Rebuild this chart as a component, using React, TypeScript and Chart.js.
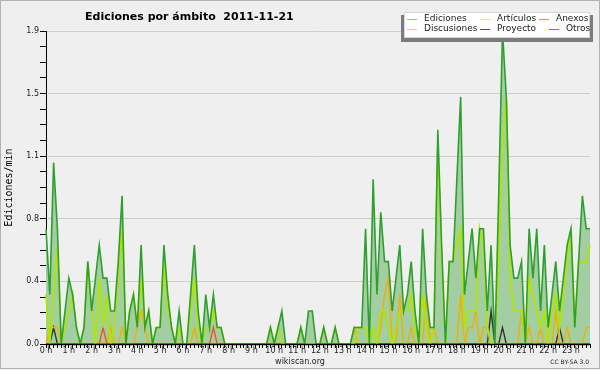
import React, { useEffect, useRef } from 'react';
import { Chart, registerables } from 'chart.js';

Chart.register(...registerables);

const TITLE = 'Ediciones por ámbito  2011-11-21';
const Y_TITLE = 'Ediciones/min';
const FOOTER_LEFT = 'wikiscan.org';
const FOOTER_RIGHT = 'CC BY-SA 3.0';

const HOUR_LABELS = [
  '0 h', '1 h', '2 h', '3 h', '4 h', '5 h', '6 h', '7 h', '8 h', '9 h', '10 h', '11 h',
  '12 h', '13 h', '14 h', '15 h', '16 h', '17 h', '18 h', '19 h', '20 h', '21 h', '22 h', '23 h',
];
const MINUTES = ['00', '10', '20', '30', '40', '50'];
const SLOT_LABELS = HOUR_LABELS.flatMap((h) => MINUTES.map((m) => `${h} ${m}`));

const Y_MAX = 1.9;
const Y_MAJOR_TICKS = [0, 0.38, 0.76, 1.14, 1.52, 1.9];

const SERIES_NAMES = ['Ediciones', 'Artículos', 'Anexos', 'Discusiones', 'Proyecto', 'Otros'];

// 10-minute slots (edits per minute)
const EDICIONES = [
  0.7, 0.3, 1.1, 0.7, 0, 0.2, 0.4, 0.3, 0.1, 0, 0.1, 0.5,
  0.2, 0.4, 0.6, 0.4, 0.4, 0.2, 0.2, 0.5, 0.9, 0, 0.2, 0.3,
  0.1, 0.6, 0.1, 0.2, 0, 0.1, 0.1, 0.6, 0.3, 0.1, 0, 0.2,
  0, 0, 0.3, 0.6, 0.2, 0, 0.3, 0.1, 0.3, 0.1, 0.1, 0,
  0, 0, 0, 0, 0, 0, 0, 0, 0, 0, 0, 0.1,
  0, 0.1, 0.2, 0, 0, 0, 0, 0.1, 0, 0.2, 0.2, 0,
  0, 0.1, 0, 0, 0.1, 0, 0, 0, 0, 0.1, 0.1, 0.1,
  0.7, 0, 1.0, 0.3, 0.8, 0.5, 0.5, 0.2, 0.4, 0.6, 0.2, 0.3,
  0.5, 0.2, 0, 0.7, 0.3, 0.1, 0.1, 1.3, 0.6, 0, 0.5, 0.5,
  1.0, 1.5, 0.3, 0.5, 0.7, 0.4, 0.7, 0.7, 0.2, 0.6, 0, 0.9,
  1.9, 1.5, 0.6, 0.4, 0.4, 0.5, 0, 0.7, 0.4, 0.7, 0.2, 0.6,
  0.1, 0.3, 0.5, 0.2, 0.4, 0.6, 0.7, 0.1, 0.5, 0.9, 0.7, 0.7,
];

const ARTICULOS = [
  0.3, 0, 0.3, 0.6, 0, 0.1, 0.2, 0.3, 0.1, 0, 0.1, 0.5,
  0.2, 0, 0.4, 0.1, 0.3, 0, 0.1, 0.4, 0.7, 0, 0.2, 0.3,
  0.1, 0.4, 0.1, 0.2, 0, 0.1, 0.1, 0.5, 0.2, 0.1, 0, 0.1,
  0, 0, 0.2, 0.4, 0.1, 0, 0.1, 0.1, 0.2, 0.1, 0.1, 0,
  0, 0, 0, 0, 0, 0, 0, 0, 0, 0, 0, 0.1,
  0, 0.1, 0, 0, 0, 0, 0, 0.1, 0, 0, 0, 0,
  0, 0.1, 0, 0, 0.1, 0, 0, 0, 0, 0, 0.1, 0.1,
  0.1, 0, 0.1, 0, 0.2, 0.2, 0.1, 0, 0.1, 0.2, 0.2, 0.2,
  0.3, 0.1, 0, 0.3, 0.1, 0, 0.1, 1.2, 0.5, 0, 0.5, 0.5,
  0.6, 0.7, 0.1, 0.2, 0.2, 0.2, 0.7, 0.6, 0.1, 0, 0, 0.5,
  1.2, 1.5, 0.4, 0.2, 0.2, 0.2, 0, 0.4, 0.3, 0.2, 0.1, 0.2,
  0, 0.2, 0.3, 0.1, 0.3, 0.5, 0.7, 0.1, 0.5, 0.5, 0.5, 0.6,
];

const ANEXOS = [
  0, 0, 0, 0, 0, 0, 0, 0, 0, 0, 0, 0,
  0, 0, 0, 0.1, 0, 0, 0, 0, 0, 0, 0, 0,
  0, 0, 0, 0, 0, 0, 0, 0, 0, 0, 0, 0,
  0, 0, 0, 0, 0, 0, 0, 0, 0.1, 0, 0, 0,
  0, 0, 0, 0, 0, 0, 0, 0, 0, 0, 0, 0,
  0, 0, 0, 0, 0, 0, 0, 0, 0, 0, 0, 0,
  0, 0, 0, 0, 0, 0, 0, 0, 0, 0, 0, 0,
  0, 0, 0, 0, 0, 0, 0, 0, 0, 0, 0, 0,
  0, 0, 0, 0, 0, 0, 0, 0, 0, 0, 0, 0,
  0, 0, 0, 0, 0, 0, 0, 0, 0, 0, 0, 0,
  0, 0, 0, 0, 0, 0, 0, 0, 0, 0, 0, 0,
  0, 0, 0, 0, 0, 0, 0, 0, 0, 0, 0, 0,
];

const DISCUSIONES = [
  0, 0.1, 0.1, 0.1, 0, 0, 0, 0, 0, 0, 0, 0,
  0, 0, 0, 0, 0, 0.1, 0, 0, 0.1, 0, 0, 0,
  0.1, 0.2, 0.1, 0, 0, 0, 0, 0, 0, 0, 0, 0,
  0, 0, 0, 0.1, 0, 0, 0, 0, 0, 0, 0, 0,
  0, 0, 0, 0, 0, 0, 0, 0, 0, 0, 0, 0,
  0, 0, 0, 0, 0, 0, 0, 0, 0, 0, 0, 0,
  0, 0, 0, 0, 0, 0, 0, 0, 0, 0.1, 0, 0,
  0, 0, 0, 0, 0.1, 0.3, 0.4, 0, 0, 0.3, 0, 0,
  0.1, 0, 0, 0, 0.3, 0, 0.1, 0, 0, 0, 0, 0,
  0, 0.3, 0, 0.1, 0.1, 0.2, 0, 0.1, 0.1, 0, 0, 0,
  0, 0, 0, 0, 0, 0.2, 0, 0.1, 0, 0, 0.1, 0,
  0, 0, 0.2, 0, 0, 0.1, 0, 0, 0, 0, 0.1, 0.1,
];

const PROYECTO = [
  0, 0, 0.1, 0, 0, 0, 0, 0, 0, 0, 0, 0,
  0, 0, 0, 0, 0, 0, 0, 0, 0, 0, 0, 0,
  0, 0, 0, 0, 0, 0, 0, 0, 0, 0, 0, 0,
  0, 0, 0, 0, 0, 0, 0, 0, 0, 0, 0, 0,
  0, 0, 0, 0, 0, 0, 0, 0, 0, 0, 0, 0,
  0, 0, 0, 0, 0, 0, 0, 0, 0, 0, 0, 0,
  0, 0, 0, 0, 0, 0, 0, 0, 0, 0, 0, 0,
  0, 0, 0, 0, 0, 0, 0, 0, 0, 0, 0, 0,
  0, 0, 0, 0, 0, 0, 0, 0, 0, 0, 0, 0,
  0, 0, 0, 0, 0, 0, 0, 0, 0, 0.2, 0, 0,
  0.1, 0, 0, 0, 0, 0, 0, 0, 0, 0, 0, 0,
  0, 0, 0, 0.1, 0, 0, 0, 0, 0, 0, 0, 0,
];

const OTROS = [
  0, 0, 0, 0, 0, 0, 0, 0, 0, 0, 0, 0,
  0, 0, 0, 0, 0, 0, 0, 0, 0, 0, 0, 0,
  0, 0, 0, 0, 0, 0, 0, 0, 0, 0, 0, 0,
  0, 0, 0, 0, 0, 0, 0, 0, 0, 0, 0, 0,
  0, 0, 0, 0, 0, 0, 0, 0, 0, 0, 0, 0,
  0, 0, 0, 0, 0, 0, 0, 0, 0, 0, 0, 0,
  0, 0, 0, 0, 0, 0, 0, 0, 0, 0, 0, 0,
  0, 0, 0, 0, 0, 0, 0, 0, 0, 0, 0, 0,
  0, 0, 0, 0, 0, 0, 0, 0, 0, 0, 0, 0,
  0, 0, 0, 0, 0, 0, 0, 0, 0, 0, 0, 0,
  0, 0, 0, 0, 0, 0, 0, 0, 0, 0, 0, 0,
  0, 0, 0, 0, 0, 0, 0, 0, 0, 0, 0, 0,
];

const SERIES_DATA = [EDICIONES, ARTICULOS, ANEXOS, DISCUSIONES, PROYECTO, OTROS];
const LINE_COLORS = ['#2f9f2f', '#aee600', '#ee5522', '#f0b000', '#333333', '#8833ee'];
const LEGEND_COLORS = ['#8fd08f', '#d2f07a', '#f08a5a', '#f5d25a', '#555555', '#9a55f0'];
const LINE_WIDTHS = [1.6, 1.8, 1.4, 1.4, 1.4, 1.4];
const EDICIONES_FILL = '#a3cea3';

const BG = '#efefef';
const FONT = "'DejaVu Sans', sans-serif";

// legend item anchor positions (sample line start x, row centre y)
const LEGEND_POS = [
  [407, 19], [480, 19], [539, 19],
  [407, 29], [480, 29], [549, 29],
];

const decorPlugin = {
  id: 'decor',
  beforeDraw(chart: any) {
    const { ctx, width, height } = chart;
    ctx.save();
    ctx.fillStyle = BG;
    ctx.fillRect(0, 0, width, height);
    ctx.strokeStyle = '#b2b2b2';
    ctx.lineWidth = 1;
    ctx.strokeRect(0.5, 0.5, width - 1, height - 2);
    ctx.restore();
  },
  afterDatasetsDraw(chart: any) {
    const { ctx, chartArea } = chart;
    ctx.save();
    ctx.strokeStyle = '#000';
    ctx.lineWidth = 1.5;
    ctx.beginPath();
    ctx.moveTo(chartArea.left, chartArea.bottom + 0.5);
    ctx.lineTo(chartArea.right, chartArea.bottom + 0.5);
    ctx.stroke();
    ctx.restore();
  },
  afterDraw(chart: any) {
    const { ctx } = chart;
    ctx.save();
    // title
    ctx.fillStyle = '#000';
    ctx.font = `bold 11px ${FONT}`;
    ctx.textAlign = 'left';
    ctx.textBaseline = 'alphabetic';
    ctx.fillText(TITLE, 85, 20);

    // legend box with shadow
    ctx.fillStyle = '#7c7c7c';
    ctx.fillRect(401, 15, 192, 27);
    ctx.fillStyle = '#ffffff';
    ctx.fillRect(404, 12, 186, 26);
    ctx.strokeStyle = '#d6d6d6';
    ctx.lineWidth = 1;
    ctx.strokeRect(404.5, 12.5, 185, 25);

    ctx.font = `9px ${FONT}`;
    ctx.textBaseline = 'middle';
    chart.data.datasets.forEach((ds: any, i: number) => {
      const [x, y] = LEGEND_POS[i];
      ctx.strokeStyle = LEGEND_COLORS[i];
      ctx.lineWidth = 1;
      ctx.beginPath();
      ctx.moveTo(x, y + 0.5);
      ctx.lineTo(x + 10, y + 0.5);
      ctx.stroke();
      ctx.fillStyle = '#222';
      ctx.fillText(ds.label, x + 17, y);
    });

    // footer
    ctx.fillStyle = '#222';
    ctx.font = `8px ${FONT}`;
    ctx.textAlign = 'center';
    ctx.fillText(FOOTER_LEFT, 300, 361.5);
    ctx.font = `6px ${FONT}`;
    ctx.textAlign = 'right';
    ctx.fillText(FOOTER_RIGHT, 589, 362.5);
    ctx.restore();
  },
};

export default function App() {
  const canvasRef = useRef<HTMLCanvasElement | null>(null);

  useEffect(() => {
    document.body.style.margin = '0';
    const canvas = canvasRef.current;
    if (!canvas) return;

    const datasets = SERIES_NAMES.map((name, i) => ({
      label: name,
      data: SERIES_DATA[i],
      borderColor: LINE_COLORS[i],
      backgroundColor: i === 0 ? EDICIONES_FILL : LINE_COLORS[i],
      borderWidth: LINE_WIDTHS[i],
      fill: i === 0 ? 'origin' : false,
      pointRadius: 0,
      tension: 0,
    }));

    const chart = new Chart(canvas, {
      type: 'line',
      data: { labels: SLOT_LABELS, datasets },
      plugins: [decorPlugin],
      options: {
        responsive: false,
        animation: false,
        devicePixelRatio: 1,
        events: [],
        layout: { padding: { top: 31, right: 10, left: 0, bottom: 0 } },
        plugins: {
          legend: { display: false },
          title: { display: false },
          tooltip: { enabled: false },
          filler: { drawTime: 'beforeDatasetsDraw' },
        },
        scales: {
          x: {
            type: 'category',
            offset: false,
            afterFit: (s: any) => { s.height = 26; },
            grid: {
              drawOnChartArea: false,
              drawTicks: true,
              tickLength: 4,
              tickColor: '#000',
              color: '#000',
            },
            border: { display: true, color: '#000', width: 1 },
            ticks: {
              autoSkip: false,
              maxRotation: 0,
              minRotation: 0,
              padding: -2,
              color: '#222',
              font: { family: FONT, size: 8 },
              callback: (_v: any, idx: number) =>
                idx % MINUTES.length === 0 ? HOUR_LABELS[idx / MINUTES.length] : '',
            },
          },
          y: {
            type: 'linear',
            min: 0,
            max: Y_MAX,
            afterFit: (s: any) => { s.width = 46; },
            afterBuildTicks: (s: any) => {
              const ticks: any[] = [];
              for (let k = 0; k < Y_MAJOR_TICKS.length - 1; k++) {
                const a = Y_MAJOR_TICKS[k];
                const b = Y_MAJOR_TICKS[k + 1];
                for (let j = 0; j < 4; j++) ticks.push({ value: a + ((b - a) * j) / 4, major: j === 0 });
              }
              ticks.push({ value: Y_MAJOR_TICKS[Y_MAJOR_TICKS.length - 1], major: true });
              s.ticks = ticks;
            },
            grid: {
              drawOnChartArea: true,
              drawTicks: true,
              tickLength: 6,
              tickColor: '#000',
              lineWidth: 1,
              color: (c: any) =>
                c.tick && c.tick.major && c.tick.value > 0 ? '#cdcdcd' : 'rgba(0,0,0,0)',
            },
            border: { display: true, color: '#000', width: 1 },
            ticks: {
              padding: 1,
              color: '#222',
              font: { family: FONT, size: 8 },
              callback: function (this: any, v: any, idx: number) {
                return idx % 4 === 0 ? Number(v).toFixed(1) : '';
              },
            },
            title: {
              display: true,
              text: Y_TITLE,
              color: '#000',
              font: { family: "'DejaVu Sans Mono', monospace", size: 10 },
              padding: { top: 3, bottom: 0 },
            },
          },
        },
      } as any,
    });

    return () => chart.destroy();
  }, []);

  return (
    <div style={{ width: 600, height: 370 }}>
      <canvas ref={canvasRef} width={600} height={370} style={{ display: 'block' }} />
    </div>
  );
}
